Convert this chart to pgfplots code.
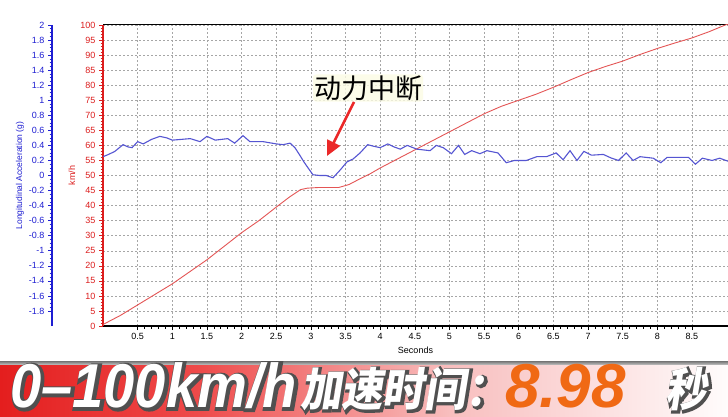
\documentclass[border=0pt]{standalone}
\usepackage{pgfplots}
\pgfplotsset{compat=1.18}
\usepackage{fontspec}
\usetikzlibrary{arrows.meta}
\setmainfont{Liberation Sans}
\newfontfamily\cjk{Noto Sans CJK SC}
\newfontfamily\cjkbi{Noto Sans CJK SC}[FakeSlant=0.18]
\newfontfamily\cjkshadow{Noto Sans CJK SC}[FakeSlant=0.18, FakeBold=8]
\newfontfamily\latinbi{Liberation Sans}[UprightFont={* Bold Italic}]
\newfontfamily\latinshadow{Liberation Sans}[UprightFont={* Bold Italic}, FakeBold=8]
\definecolor{redax}{RGB}{220,30,30}
\definecolor{redcurve}{RGB}{228,85,85}
\definecolor{blueax}{RGB}{30,30,210}
\definecolor{bluecurve}{RGB}{85,85,210}
\definecolor{bannerA}{RGB}{228,30,30}
\definecolor{bannerB}{RGB}{238,75,75}
\definecolor{bannerC}{RGB}{248,190,190}
\definecolor{bannerD}{RGB}{255,252,252}
\definecolor{shadowc}{RGB}{80,80,80}
\definecolor{orangec}{RGB}{240,105,20}
\definecolor{arrowred}{RGB}{235,40,40}

\begin{document}
\begin{tikzpicture}[x=1pt,y=1pt]
\useasboundingbox (0,0) rectangle (728,416);
\fill[white] (0,0) rectangle (728,416);

% ---------- main axis: speed ----------
\begin{axis}[
  at={(103pt,90pt)}, anchor=south west, scale only axis,
  width=625pt, height=301pt,
  xmin=0, xmax=9.02, ymin=0, ymax=100,
  axis x line*=bottom, axis y line*=left,
  x axis line style={black, line width=1.6pt, -},
  y axis line style={redax, line width=1.6pt, -},
  xtick={0.5,1,1.5,2,2.5,3,3.5,4,4.5,5,5.5,6,6.5,7,7.5,8,8.5},
  xticklabels={0.5,1,1.5,2,2.5,3,3.5,4,4.5,5,5.5,6,6.5,7,7.5,8,8.5},
  ytick={0,5,10,15,20,25,30,35,40,45,50,55,60,65,70,75,80,85,90,95,100},
  yticklabels={0,5,10,15,20,25,30,35,40,45,50,55,60,65,70,75,80,85,90,95,100},
  minor x tick num=4, minor y tick num=4,
  tick align=outside,
  major tick length=4pt, minor tick length=2.5pt,
  x tick style={black, line width=0.6pt},
  y tick style={redax, line width=0.6pt},
  grid=major,
  major grid style={gray!70, dash pattern=on 2pt off 2pt, line width=0.5pt},
  tick label style={font=\fontsize{9}{10}\selectfont},
  yticklabel style={text=redax},
  xlabel={Seconds},
  xlabel style={font=\fontsize{9}{10}\selectfont},
  ylabel={km/h},
  ylabel style={text=redax, font=\fontsize{9}{10}\selectfont, at={(axis description cs:-0.0496,0.5)}, anchor=center},
  clip=true,
]
\draw[black, line width=1pt] (rel axis cs:0,1) -- (rel axis cs:1,1);
\addplot[redcurve, line width=0.9pt] table {
t v
0 0.5
0.25 3.5
0.5 7
0.75 10.5
1 14
1.25 18
1.5 22
1.75 26.5
2 31
2.25 35
2.5 39.5
2.7 43
2.85 45.3
2.95 45.8
3.1 46
3.4 46
3.55 47
3.7 48.8
3.85 50.5
4.0 52.5
4.25 55.5
4.5 58.5
4.75 61.5
5.0 64.5
5.25 67.5
5.5 70.5
5.75 73
6.0 75
6.25 77
6.5 79.3
6.75 81.8
7.0 84.2
7.25 86.2
7.5 88
7.75 90.2
8.0 92.2
8.25 94
8.5 95.7
8.75 97.8
8.98 100
9.02 100.3
};
\end{axis}

% ---------- overlay axis: acceleration curve ----------
\begin{axis}[
  at={(103pt,90pt)}, anchor=south west, scale only axis,
  width=625pt, height=301pt,
  xmin=0, xmax=9.02, ymin=-2, ymax=2,
  hide axis, clip=true,
]
\addplot[bluecurve, line width=1.1pt] table {
t g
0 0.25
0.08 0.28
0.17 0.32
0.29 0.41
0.36 0.38
0.42 0.37
0.5 0.45
0.58 0.42
0.7 0.48
0.82 0.52
0.92 0.50
1.0 0.47
1.13 0.48
1.26 0.49
1.4 0.45
1.5 0.52
1.62 0.47
1.8 0.49
1.9 0.43
2.02 0.53
2.12 0.45
2.31 0.45
2.5 0.42
2.6 0.41
2.7 0.43
2.77 0.37
2.84 0.27
2.9 0.18
2.96 0.10
3.03 0.01
3.13 0.0
3.22 0.0
3.32 -0.03
3.42 0.07
3.52 0.18
3.61 0.22
3.71 0.30
3.82 0.41
3.9 0.39
4.0 0.37
4.11 0.42
4.2 0.38
4.29 0.35
4.39 0.40
4.53 0.35
4.72 0.33
4.81 0.40
4.91 0.37
5.03 0.29
5.13 0.40
5.22 0.28
5.32 0.33
5.44 0.29
5.54 0.33
5.7 0.30
5.82 0.17
5.94 0.20
6.11 0.20
6.26 0.25
6.4 0.25
6.54 0.30
6.64 0.21
6.74 0.33
6.84 0.20
6.94 0.32
7.05 0.27
7.22 0.28
7.34 0.23
7.44 0.20
7.55 0.30
7.65 0.20
7.75 0.25
7.94 0.23
8.05 0.17
8.14 0.24
8.33 0.24
8.45 0.24
8.55 0.15
8.65 0.23
8.79 0.20
8.9 0.23
9.02 0.19
};
\end{axis}

% ---------- acceleration scale ----------
\begin{axis}[
  at={(52pt,90pt)}, anchor=south west, scale only axis,
  width=1pt, height=301pt,
  xmin=0, xmax=1, ymin=-2, ymax=2,
  axis x line=none, axis y line*=left,
  y axis line style={blueax, line width=1.6pt, -},
  ytick={-1.8,-1.6,-1.4,-1.2,-1,-0.8,-0.6,-0.4,-0.2,0,0.2,0.4,0.6,0.8,1,1.2,1.4,1.6,1.8,2},
  yticklabels={-1.8,-1.6,-1.4,-1.2,-1,-0.8,-0.6,-0.4,-0.2,0,0.2,0.4,0.6,0.8,1,1.2,1.4,1.6,1.8,2},
  minor y tick num=3,
  tick align=outside,
  major tick length=4pt, minor tick length=2.5pt,
  y tick style={blueax, line width=0.6pt},
  tick label style={font=\fontsize{9}{10}\selectfont, text=blueax},
  ylabel={Longitudinal Acceleration (g)},
  ylabel style={text=blueax, font=\fontsize{8.5}{10}\selectfont, at={(axis description cs:-32,0.5)}, anchor=center},
]
\end{axis}

% ---------- annotation ----------
\node[fill={rgb,255:red,252;green,252;blue,228}, fill opacity=0.8, text opacity=1, inner sep=1pt, rounded corners=3pt] at (368,328) {\cjk\fontsize{27}{30}\selectfont 动力中断};
\draw[arrowred, line width=2.6pt, -{Triangle[length=15pt,width=14pt]}] (354,314) -- (327,260);

% ---------- banner ----------
\shade[left color=bannerA, right color=bannerB] (0,0) rectangle (200,52);
\shade[left color=bannerB, right color=bannerC] (200,0) rectangle (450,52);
\shade[left color=bannerC, right color=bannerD] (450,0) rectangle (728,52);
\shade[top color=gray!90!black, bottom color=gray!60] (0,52) rectangle (728,55);
% 0-100km/h
\node[anchor=base west, inner sep=0pt, text=shadowc, xscale=0.905, xshift=1.5pt, yshift=-1.5pt] at (10,9) {\latinshadow\fontsize{62}{64}\selectfont 0–100km/h};
\node[anchor=base west, inner sep=0pt, text=white, xscale=0.905] at (10,9) {\latinbi\fontsize{62}{64}\selectfont 0–100km/h};
% 加速时间：
\node[anchor=base west, inner sep=0pt, text=shadowc, xscale=0.9, xshift=1.5pt, yshift=-1.5pt] at (300,10) {\cjkshadow\bfseries\fontsize{46}{50}\selectfont 加速时间：};
\node[anchor=base west, inner sep=0pt, text=white, xscale=0.9] at (300,10) {\cjkbi\bfseries\fontsize{46}{50}\selectfont 加速时间：};
% 8.98
\node[anchor=base west, inner sep=0pt, text=orangec] at (505,9) {\latinbi\fontsize{62}{64}\selectfont 8.98};
% 秒
\node[anchor=base west, inner sep=0pt, text=shadowc, xscale=0.9, xshift=1.5pt, yshift=-1.5pt] at (665,10) {\cjkshadow\bfseries\fontsize{46}{50}\selectfont 秒};
\node[anchor=base west, inner sep=0pt, text=white, xscale=0.9] at (665,10) {\cjkbi\bfseries\fontsize{46}{50}\selectfont 秒};
\end{tikzpicture}
\end{document}
